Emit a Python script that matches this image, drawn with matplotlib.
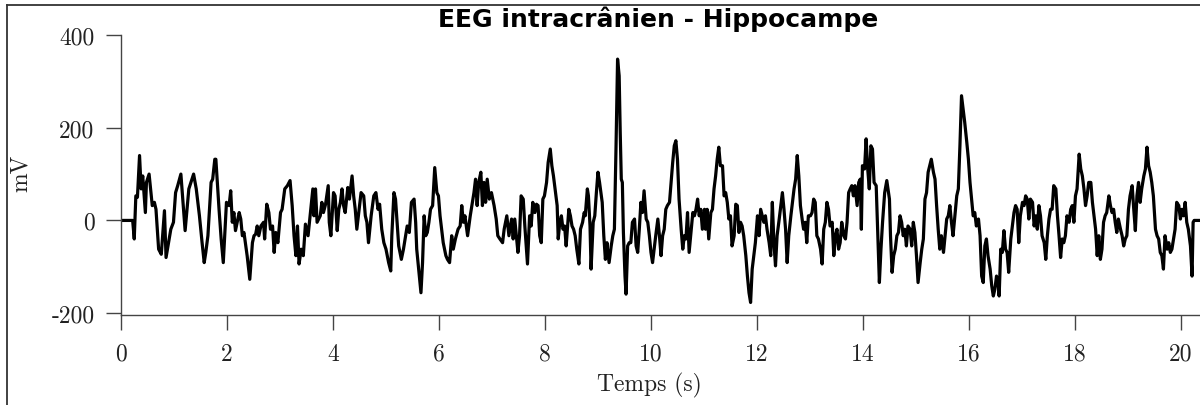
import matplotlib
matplotlib.use("Agg")
import matplotlib.pyplot as plt
from matplotlib.lines import Line2D

# ---------------- data ----------------
title = "EEG intracrânien - Hippocampe"
x_label = "Temps (s)"
y_label = "mV"
x_ticks = [0, 2, 4, 6, 8, 10, 12, 14, 16, 18, 20]
y_ticks = [-200, 0, 200, 400]

time_s = [
    0.0, 0.22, 0.25, 0.28, 0.31, 0.35, 0.38, 0.41, 0.46, 0.48, 0.53, 0.59, 0.63, 0.66, 0.71, 0.76,
    0.82, 0.85, 0.91, 0.94, 0.99, 1.03, 1.07, 1.13, 1.21, 1.28, 1.37, 1.42, 1.48, 1.53, 1.57, 1.60,
    1.64, 1.70, 1.73, 1.77,
    1.79, 1.85, 1.89, 1.93, 1.99, 2.04, 2.07, 2.10, 2.13, 2.16, 2.23, 2.26, 2.29, 2.32, 2.35, 2.38,
    2.43, 2.48, 2.51, 2.54, 2.57, 2.60, 2.64, 2.69, 2.71, 2.75, 2.79, 2.82, 2.86, 2.89, 2.92, 2.96,
    3.01, 3.04, 3.09, 3.14, 3.19, 3.23, 3.265, 3.30, 3.33, 3.36, 3.40, 3.44, 3.48, 3.53, 3.58, 3.62,
    3.64, 3.67, 3.70, 3.73, 3.76, 3.79, 3.82, 3.86, 3.91, 3.93, 3.96, 4.01, 4.04, 4.08, 4.11, 4.14,
    4.17, 4.20, 4.23, 4.28, 4.31, 4.36, 4.39, 4.42, 4.45, 4.48, 4.53, 4.58, 4.61, 4.64, 4.67, 4.72,
    4.77, 4.81, 4.85, 4.88, 4.92, 4.96, 5.00, 5.05, 5.09, 5.11, 5.15, 5.18, 5.21, 5.24, 5.29, 5.33,
    5.40, 5.44, 5.48,
    5.53, 5.56, 5.58, 5.63, 5.66, 5.69, 5.72, 5.75, 5.78, 5.81, 5.84, 5.88, 5.92, 5.96, 5.99, 6.02,
    6.05, 6.08, 6.13, 6.16, 6.20, 6.24, 6.27, 6.31, 6.36, 6.40, 6.43, 6.46, 6.49, 6.54, 6.59, 6.62,
    6.66, 6.69, 6.72, 6.75, 6.79, 6.82, 6.85, 6.88, 6.91, 6.95, 6.99, 7.04, 7.08, 7.11, 7.15, 7.20,
    7.23, 7.28, 7.32,
    7.37, 7.40, 7.43, 7.46, 7.49, 7.52, 7.55, 7.59, 7.62, 7.65, 7.67, 7.71, 7.74, 7.77, 7.81, 7.84,
    7.87, 7.90, 7.93, 7.96, 7.99, 8.03, 8.06, 8.10, 8.13, 8.16, 8.20, 8.23, 8.25, 8.28, 8.31, 8.34,
    8.37, 8.40, 8.45, 8.48, 8.51, 8.54, 8.57, 8.60, 8.64, 8.67, 8.71, 8.74, 8.76, 8.80, 8.82, 8.85,
    8.87, 8.91, 8.94, 8.97, 9.00, 9.03, 9.08, 9.11, 9.14, 9.17,
    9.18, 9.21, 9.25, 9.28, 9.31, 9.34, 9.37, 9.40, 9.42, 9.44, 9.46, 9.48, 9.51, 9.53, 9.56, 9.59,
    9.62, 9.65, 9.69, 9.72, 9.75, 9.78, 9.81, 9.84, 9.87, 9.91, 9.94, 9.97, 10.00, 10.03, 10.06, 10.09,
    10.13, 10.16, 10.19, 10.22, 10.25, 10.28, 10.31, 10.35, 10.38, 10.41, 10.44, 10.47, 10.50, 10.53,
    10.57, 10.60, 10.63, 10.66, 10.69, 10.72, 10.75, 10.79, 10.82, 10.85, 10.88, 10.91, 10.94, 10.97,
    11.01,
    11.03, 11.06, 11.09, 11.13, 11.16, 11.19, 11.22, 11.25, 11.28, 11.31, 11.35, 11.38, 11.41, 11.44,
    11.47, 11.50, 11.53, 11.57, 11.60, 11.63, 11.66, 11.69, 11.72, 11.75, 11.79, 11.82, 11.85, 11.88,
    11.91, 11.94, 11.97, 12.01, 12.04, 12.07, 12.10, 12.13, 12.16, 12.19, 12.23, 12.26, 12.29, 12.32,
    12.35, 12.38, 12.42, 12.45, 12.48, 12.51, 12.54, 12.57, 12.60, 12.64, 12.67, 12.70, 12.73, 12.76,
    12.79, 12.82, 12.86,
    12.88, 12.91, 12.94, 12.97, 13.01, 13.04, 13.07, 13.10, 13.13, 13.16, 13.20, 13.23, 13.26, 13.29,
    13.32, 13.35, 13.38, 13.42, 13.45, 13.48, 13.51, 13.54, 13.57, 13.60, 13.64, 13.67, 13.70, 13.73,
    13.76, 13.79, 13.82, 13.85, 13.89, 13.92, 13.95, 13.97, 13.99, 14.03, 14.06, 14.09, 14.12, 14.15,
    14.18, 14.21, 14.25, 14.28, 14.31, 14.34, 14.37, 14.41, 14.45, 14.50, 14.52, 14.55, 14.58, 14.61,
    14.64, 14.67,
    14.70, 14.73, 14.76, 14.79, 14.82, 14.85, 14.89, 14.92, 14.95, 14.98, 15.01, 15.04, 15.08, 15.11,
    15.14, 15.17, 15.20, 15.23, 15.26, 15.29, 15.33, 15.36, 15.39, 15.42, 15.45, 15.48, 15.52, 15.55,
    15.58, 15.61, 15.64, 15.67, 15.70, 15.74, 15.77, 15.80, 15.83, 15.86, 15.89, 15.92, 15.96, 15.99,
    16.02, 16.05, 16.08, 16.11, 16.14, 16.18, 16.21, 16.24, 16.27, 16.30, 16.33, 16.36, 16.40, 16.43,
    16.46, 16.49, 16.52,
    16.55, 16.57, 16.60, 16.63, 16.66, 16.69, 16.72, 16.75, 16.79, 16.82, 16.85, 16.88, 16.91, 16.94,
    16.97, 17.01, 17.04, 17.07, 17.10, 17.13, 17.16, 17.20, 17.23, 17.26, 17.29, 17.32, 17.35, 17.38,
    17.42, 17.45, 17.48, 17.51, 17.54, 17.57, 17.60, 17.64, 17.67, 17.70, 17.73, 17.76, 17.79, 17.82,
    17.85, 17.89, 17.92, 17.95, 17.98, 18.01, 18.04, 18.08, 18.11, 18.14, 18.17, 18.20, 18.23, 18.26,
    18.30, 18.33, 18.36, 18.39, 18.42,
    18.45, 18.48, 18.51, 18.54, 18.57, 18.60, 18.64, 18.67, 18.70, 18.73, 18.76, 18.79, 18.82, 18.86,
    18.89, 18.92, 18.95, 18.98, 19.01, 19.04, 19.08, 19.11, 19.14, 19.17, 19.20, 19.23, 19.26, 19.30,
    19.33, 19.36, 19.39, 19.42, 19.45, 19.48, 19.52, 19.55, 19.58, 19.61, 19.64, 19.67, 19.70, 19.74,
    19.77, 19.80, 19.83, 19.86, 19.89, 19.92, 19.96, 19.99, 20.02, 20.05, 20.08, 20.11, 20.14, 20.18,
    20.21, 20.23, 20.25, 20.36,
]

voltage_mv = [
    0, 0, -40, 53, 50, 140, 68, 96, 17, 82, 100, 32, 39, 24, -62, -73,
    21, -80, -40, -19, -4, 60, 75, 100, -22, 68, 100, 68, 10, -48, -91, -69,
    -33, 82, 89, 132,
    132, 24, -40, -91, 39, 32, 64, -4, 17, -22, 17, 3, -33, -26, -51, -76,
    -127, -48, -33, -30, -12, -33, -12, -4, -40, 35, 17, -19, -12, -69, -26, -48,
    17, 24, 68, 75, 86, 32, -33, -76, -12, -94, -62, -76, -8, -33, 24, 68,
    10, 68, -4, 3, 10, 39, 17, 35, 75, -4, -33, 60, 53, -22, 24, 39,
    68, 32, 17, 71, 46, 96, 53, 24, -19, 10, 60, 53, 10, -4, -48, 10,
    53, 60, 24, 35, -19, -48, -62, -91, -109, -33, 60, 46, -4, -55, -84, -62,
    -12, -26, 39,
    46, -4, -62, -120, -156, -91, 10, -33, -26, -4, 24, 32, 114, 60, 53, 10,
    -19, -48, -76, -84, -91, -33, -62, -40, -19, -12, 32, -4, 10, -33, 10, 32,
    60, 89, 32, 82, 104, 32, 82, 39, 89, 46, 60, 32, 3, -33, -40, -48,
    -19, 10, -33,
    3, -40, 3, -33, -69, -33, 53, 46, -12, -62, -94, 10, -12, 39, 17, 35,
    32, -33, -48, 46, 53, 82, 125, 154, 118, 96, 60, 32, -40, -4, 10, -19,
    -12, -55, 24, 10, -12, -19, -33, -62, -94, -19, -4, 17, 10, 68, 53, -12,
    -105, -4, 10, 60, 104, 82, 39, -33, -84, -48,
    -62, -91, -55, -33, -19, 154, 348, 312, 190, 89, 82, -26, -120, -159, -55, -48,
    -48, -4, 3, -55, -69, -19, 39, 17, 64, 3, -4, -33, -69, -91, -62, -33,
    3, -33, -76, -33, -19, 24, 32, 39, 82, 125, 161, 172, 132, 46,
    -19, -62, -33, -40, 17, -69, -33, 17, 10, 24, 46, 10, 24, -19,
    24,
    -19, 24, -40, 17, 24, 68, 96, 132, 158, 118, 118, 53, 60, 39,
    3, 10, -55, -33, 35, 32, -26, -4, -12, -33, -76, -120, -156, -177,
    -105, -76, -48, 10, -33, 24, 10, -4, 10, -19, -48, -76, 39, -48,
    -98, -33, 3, 32, 60, 24, -19, -91, -33, 10, 39, 68, 89, 140,
    96, 32, -4,
    -19, -4, -48, 10, 10, 17, 46, 39, -33, -40, -62, -94, -19, -4,
    39, 24, -12, -4, -76, -33, -19, -62, -48, -4, -33, -40, -4, 60,
    68, 75, 53, 75, 32, 82, 89, -19, 118, 111, 176, 111, 68, 161,
    154, 82, 75, -33, -134, -62, -4, 60, 86, 46, -33, -112, -76, -62,
    -33, -26,
    10, -4, -33, -19, -55, -12, -19, -55, -4, -26, -76, -134, -91, -62,
    -40, 46, 60, 104, 118, 132, 104, 89, 32, -19, -62, -33, -69, -33,
    3, 10, 32, -4, -33, 17, 53, 68, 161, 269, 240, 212, 168, 132,
    82, 46, 10, 17, -12, 3, -33, -120, -134, -55, -40, -76, -105, -141,
    -163, -148, -120,
    -134, -163, -62, -69, -22, -62, -69, -112, -40, -12, 17, 32, 24, -48,
    10, 39, 32, 53, 46, 3, 46, 39, -12, 10, -19, 32, 10, -33,
    -48, -84, -33, 3, 24, 24, 75, 68, 10, -33, -80, -40, -48, -33,
    10, -4, 24, 32, -4, 53, 68, 143, 111, 96, 68, 32, 53, 82,
    82, 39, 10, -19, -76,
    -33, -84, -62, -4, 10, 17, 53, 32, 17, 24, -4, -26, 3, -19,
    -33, -55, -40, -33, 24, 53, 75, 24, -22, 53, 82, 39, 68, 96,
    111, 158, 118, 104, 82, 53, -19, -33, -40, -69, -76, -105, -33, -62,
    -48, -69, -62, -40, -19, 39, 32, 3, 24, 10, 39, -4, -19, -55,
    -120, -4, 0, 0,
]

# ---------------- style ----------------
plt.rcParams["font.family"] = ["cmr10", "DejaVu Serif"]
plt.rcParams["mathtext.fontset"] = "cm"
plt.rcParams["axes.unicode_minus"] = False
plt.rcParams["axes.formatter.use_mathtext"] = True

W, H = 1200, 406
fig = plt.figure(figsize=(W / 100, H / 100), dpi=100)
ax = fig.add_axes([121 / W, 1 - 316 / H, 1 - 121 / W, 280 / H])

ax.plot(time_s, voltage_mv, color="black", lw=2.3, solid_joinstyle="round")

ax.set_xlim(0, 20.36)
ax.set_ylim(-204, 400)
for s in ("top", "right"):
    ax.spines[s].set_visible(False)
for s in ("left", "bottom"):
    ax.spines[s].set_color("#444444")
    ax.spines[s].set_linewidth(1.0)

ax.set_xticks(x_ticks)
ax.set_xticklabels([str(v) for v in x_ticks])
ax.set_yticks(y_ticks)
ax.set_yticklabels([str(v) for v in y_ticks])
ax.tick_params(direction="out", length=11, width=1.0, color="#444444",
               labelsize=17, labelcolor="#222222")
ax.tick_params(axis="y", pad=8)
ax.tick_params(axis="x", pad=9)

ax.set_xlabel(x_label, fontsize=17, color="#222222")
ax.set_ylabel(y_label, fontsize=17, color="#222222")
ax.xaxis.set_label_coords(0.49, -0.205)
ax.yaxis.set_label_coords(-0.083, 0.51)

fig.text(658 / W, 1 - 19 / H, title, ha="center", va="center",
         family="DejaVu Sans", weight="bold", fontsize=18, color="black")

# outer frame (left and top edges visible in the reference)
fig.add_artist(Line2D([7 / W, 7 / W], [0, 1 - 6 / H], transform=fig.transFigure,
                      color="#333333", lw=1.3))
fig.add_artist(Line2D([7 / W, 1], [1 - 6 / H, 1 - 6 / H], transform=fig.transFigure,
                      color="#333333", lw=1.3))

fig.savefig("out.png", dpi=100)
